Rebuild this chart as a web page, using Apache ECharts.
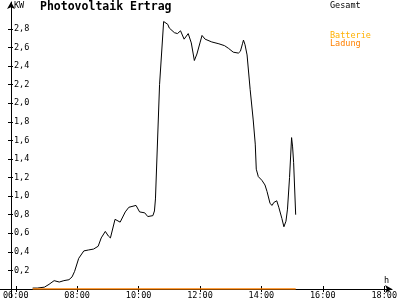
<!DOCTYPE html>
<html>
<head>
<meta charset="utf-8">
<script src="https://cdn.jsdelivr.net/npm/echarts@6/dist/echarts.min.js"></script>
<style>html,body{margin:0;padding:0;background:#fff}#c{width:400px;height:300px}</style>
</head>
<body>
<div id="c"></div>
<script>
// ---- data ----
var gesamtTimes = ["06:33","06:42","06:56","07:05","07:15","07:25","07:34","07:44","07:50","07:55",
  "08:03","08:13","08:22","08:32","08:41","08:47","08:55","09:01","09:05","09:14",
  "09:24","09:34","09:41","09:55","10:02","10:12","10:18","10:28","10:31","10:33",
  "10:41","10:49","10:57","11:00","11:10","11:16","11:22","11:29","11:37","11:43",
  "11:49","11:54","12:00","12:04","12:10","12:23","12:37","12:48","12:56","13:05",
  "13:15","13:19","13:23","13:25","13:28","13:32","13:38","13:44","13:48","13:50",
  "13:54","14:01","14:07","14:11","14:17","14:21","14:24","14:30","14:34","14:40",
  "14:44","14:48","14:51","14:55","14:59","15:01","15:03","15:07"];
var gesamtValues = [0.01,0.01,0.02,0.05,0.09,0.075,0.09,0.10,0.13,0.19,
  0.33,0.41,0.42,0.43,0.46,0.55,0.62,0.57,0.55,0.75,
  0.72,0.83,0.88,0.90,0.83,0.82,0.78,0.79,0.84,0.97,
  2.20,2.88,2.85,2.81,2.76,2.75,2.78,2.69,2.75,2.65,
  2.46,2.53,2.65,2.73,2.69,2.66,2.64,2.62,2.59,2.55,
  2.54,2.56,2.64,2.68,2.63,2.52,2.15,1.82,1.56,1.29,
  1.21,1.17,1.12,1.05,0.92,0.90,0.93,0.95,0.88,0.76,
  0.67,0.73,0.86,1.20,1.63,1.53,1.36,0.80];
var ladungTimes = ["06:33","15:07"];
var ladungValues = [0,0];
var xTickValues = [6,8,10,12,14,16,18];
var xTickLabels = ["06:00","08:00","10:00","12:00","14:00","16:00","18:00"];
var yTickValues = [0.2,0.4,0.6,0.8,1.0,1.2,1.4,1.6,1.8,2.0,2.2,2.4,2.6,2.8];

function toHours(t){var p=t.split(':');return +p[0]+(+p[1])/60;}
function pairs(ts,vs){return ts.map(function(t,i){return [toHours(t),vs[i]];});}

var FONT = 'DejaVu Sans Mono';
var pxPerHour = 31.17, pxPerKW = 93.2;
var xMin = 6 - 16/pxPerHour, xMax = xMin + 398/pxPerHour;
var yMax = 288/pxPerKW;

var chart = echarts.init(document.getElementById('c'), null, {renderer:'canvas'});
var baseX = {type:'value', min:xMin, max:xMax, splitLine:{show:false}};
var baseY = {type:'value', min:0, max:yMax, splitLine:{show:false}};
chart.setOption({
  animation:false,
  backgroundColor:'#fff',
  grid:{left:0, right:2, top:2, bottom:10, containLabel:false},
  xAxis:[
    Object.assign({}, baseX, {
      axisLine:{show:true, onZero:false, lineStyle:{color:'#000',width:1}, symbol:['none','arrow'], symbolSize:[6,7]},
      axisTick:{show:true, inside:false, length:3, lineStyle:{color:'#000'}, customValues:xTickValues},
      axisLabel:{show:true, margin:2, fontFamily:FONT, fontSize:8.5, color:'#000',
        customValues:xTickValues,
        formatter:function(v){var i=xTickValues.indexOf(Math.round(v));return i>=0?xTickLabels[i]:'';}}
    }),
    Object.assign({}, baseX, {position:'bottom',
      axisLine:{show:false}, axisLabel:{show:false},
      axisTick:{show:true, inside:true, length:3, lineStyle:{color:'#000'}, customValues:xTickValues}})
  ],
  yAxis:[
    Object.assign({}, baseY, {offset:-11,
      axisLine:{show:true, onZero:false, lineStyle:{color:'#000',width:1}, symbol:['none','arrow'], symbolSize:[6,7]},
      axisTick:{show:true, inside:false, length:3, lineStyle:{color:'#000'}, customValues:yTickValues},
      axisLabel:{show:true, inside:true, margin:3, fontFamily:FONT, fontSize:8.5, color:'#000',
        customValues:yTickValues,
        formatter:function(v){return v.toFixed(1).replace('.',',');}}
    }),
    Object.assign({}, baseY, {position:'left', offset:-11,
      axisLine:{show:false}, axisLabel:{show:false},
      axisTick:{show:true, inside:true, length:2, lineStyle:{color:'#000'}, customValues:yTickValues}})
  ],
  series:[
    {name:'Gesamt', type:'line', xAxisIndex:0, yAxisIndex:0, data:pairs(gesamtTimes,gesamtValues),
      showSymbol:false, lineStyle:{color:'#000', width:1}, itemStyle:{color:'#000'}, z:3},
    {name:'Ladung', type:'line', xAxisIndex:0, yAxisIndex:0, data:pairs(ladungTimes,ladungValues),
      showSymbol:false, lineStyle:{color:'#FF8000', width:1.5}, itemStyle:{color:'#FF8000'}, z:4}
  ],
  graphic:[
    {type:'line', shape:{x1:11.5,y1:290,x2:11.5,y2:298}, style:{stroke:'#000',lineWidth:1}},
    {type:'text', left:14, top:1, style:{text:'KW', font:'8.5px '+FONT, fill:'#000'}},
    {type:'text', left:40, top:1, style:{text:'Photovoltaik Ertrag', font:'bold 11.5px '+FONT, fill:'#000'}},
    {type:'text', left:330, top:1, style:{text:'Gesamt', font:'8.5px '+FONT, fill:'#000'}},
    {type:'text', left:330, top:31, style:{text:'Batterie', font:'8.5px '+FONT, fill:'#FFB000'}},
    {type:'text', left:330, top:39, style:{text:'Ladung', font:'8.5px '+FONT, fill:'#FF8000'}},
    {type:'text', left:384, top:276, style:{text:'h', font:'8.5px '+FONT, fill:'#000'}}
  ]
});
</script>
</body>
</html>
